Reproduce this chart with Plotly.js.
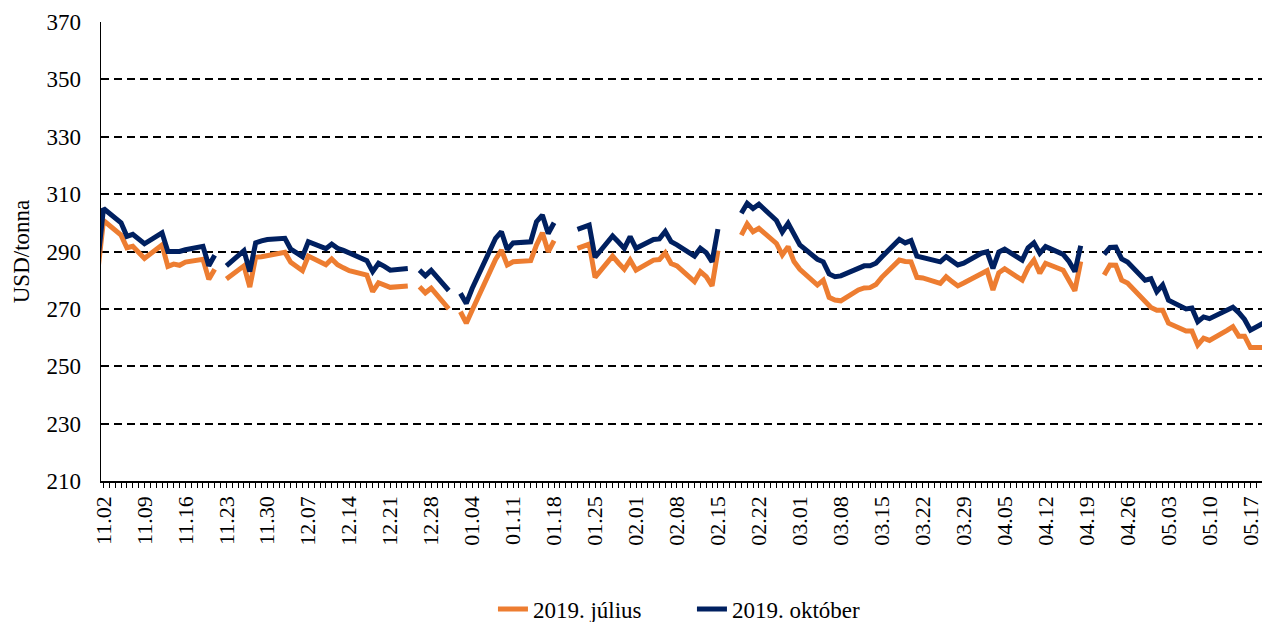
<!DOCTYPE html>
<html><head><meta charset="utf-8">
<script src="https://cdn.plot.ly/plotly-3.0.1.min.js"></script>
<style>html,body{margin:0;padding:0;background:#fff;} #chart{width:1264px;height:622px;}</style>
</head><body><div id="chart"></div>
<script>
const dates = [
 '2018-11-01','2018-11-02','2018-11-05','2018-11-06','2018-11-07','2018-11-08','2018-11-09',
 '2018-11-12','2018-11-13','2018-11-14','2018-11-15','2018-11-16',
 '2018-11-19','2018-11-20','2018-11-21','2018-11-22','2018-11-23',
 '2018-11-26','2018-11-27','2018-11-28','2018-11-29','2018-11-30',
 '2018-12-03','2018-12-04','2018-12-05','2018-12-06','2018-12-07',
 '2018-12-10','2018-12-11','2018-12-12','2018-12-13','2018-12-14',
 '2018-12-17','2018-12-18','2018-12-19','2018-12-20','2018-12-21',
 '2018-12-24','2018-12-25','2018-12-26','2018-12-27','2018-12-28',
 '2018-12-31','2019-01-01','2019-01-02','2019-01-03','2019-01-04',
 '2019-01-07','2019-01-08','2019-01-09','2019-01-10','2019-01-11',
 '2019-01-14','2019-01-15','2019-01-16','2019-01-17','2019-01-18',
 '2019-01-21','2019-01-22','2019-01-23','2019-01-24','2019-01-25',
 '2019-01-28','2019-01-29','2019-01-30','2019-01-31','2019-02-01',
 '2019-02-04','2019-02-05','2019-02-06','2019-02-07','2019-02-08',
 '2019-02-11','2019-02-12','2019-02-13','2019-02-14','2019-02-15',
 '2019-02-18','2019-02-19','2019-02-20','2019-02-21','2019-02-22',
 '2019-02-25','2019-02-26','2019-02-27','2019-02-28','2019-03-01',
 '2019-03-04','2019-03-05','2019-03-06','2019-03-07','2019-03-08',
 '2019-03-11','2019-03-12','2019-03-13','2019-03-14','2019-03-15',
 '2019-03-18','2019-03-19','2019-03-20','2019-03-21','2019-03-22',
 '2019-03-25','2019-03-26','2019-03-27','2019-03-28','2019-03-29',
 '2019-04-01','2019-04-02','2019-04-03','2019-04-04','2019-04-05',
 '2019-04-08','2019-04-09','2019-04-10','2019-04-11','2019-04-12',
 '2019-04-15','2019-04-16','2019-04-17','2019-04-18','2019-04-19',
 '2019-04-22','2019-04-23','2019-04-24','2019-04-25','2019-04-26',
 '2019-04-29','2019-04-30','2019-05-01','2019-05-02','2019-05-03',
 '2019-05-06','2019-05-07','2019-05-08','2019-05-09','2019-05-10',
 '2019-05-13','2019-05-14','2019-05-15','2019-05-16','2019-05-17',
 '2019-05-20'
];

const julius = [
 282.6,300.8,295.7,291.3,291.8,289.5,287.6,
 292.3,284.8,285.6,285.2,286.3,
 287.3,280.3,283.8,null,280.4,
 285.0,277.6,288.0,288.2,288.6,
 289.7,286.2,285.0,283.3,288.4,
 285.4,287.4,285.4,284.3,283.3,
 281.8,276.0,279.1,278.5,277.5,
 278.0,null,277.7,275.6,277.2,
 270.0,null,269.0,265.0,269.5,
 282.7,287.2,290.5,285.3,286.4,
 286.8,292.3,296.5,289.9,293.8,
 null,291.1,292.0,292.6,281.0,
 288.4,286.0,283.8,287.0,283.5,
 287.0,287.2,289.5,285.8,285.0,
 279.5,283.0,281.2,278.0,290.3,
 null,295.7,299.6,296.9,298.1,
 292.8,288.8,291.7,286.5,283.8,
 278.3,280.0,274.0,273.1,272.8,
 276.6,277.3,277.4,278.5,281.0,
 287.0,286.5,286.4,281.0,280.8,
 278.9,281.2,279.5,278.0,279.0,
 282.6,283.3,276.6,282.6,284.0,
 280.0,284.3,287.0,282.4,285.9,
 283.5,280.0,276.3,286.5,null,
 281.8,285.3,285.2,280.0,279.0,
 272.5,270.5,269.5,269.5,265.0,
 262.3,262.3,257.4,259.8,259.0,
 262.5,263.8,260.5,260.5,256.5,
 256.5
];

const oktober = [
 286.3,305.0,300.0,295.3,296.0,294.6,292.7,
 296.5,290.0,290.0,290.0,290.6,
 291.8,285.0,288.7,null,285.0,
 290.3,283.0,293.0,293.7,294.2,
 294.6,290.8,289.5,288.2,293.4,
 291.0,292.6,291.1,290.4,289.5,
 286.8,283.0,285.9,284.8,283.5,
 284.1,null,283.5,281.5,283.4,
 276.4,null,275.4,271.9,277.1,
 290.6,294.6,296.9,290.7,293.0,
 293.4,300.4,302.7,296.3,300.0,
 null,297.7,298.5,299.2,288.0,
 295.4,293.3,291.1,295.2,291.1,
 294.2,294.4,297.0,293.4,292.3,
 288.4,291.1,289.6,286.4,297.8,
 null,303.3,306.8,305.0,306.5,
 300.8,296.8,299.8,296.0,292.3,
 287.3,286.4,282.2,281.2,281.5,
 284.3,285.0,285.0,285.9,288.1,
 294.2,293.0,293.8,288.4,288.0,
 286.4,288.2,286.6,285.3,285.9,
 289.4,289.9,284.1,289.8,290.8,
 287.0,291.3,293.0,289.4,291.7,
 289.0,286.5,283.0,292.0,null,
 289.0,291.4,291.5,287.4,286.3,
 280.0,280.5,276.0,278.3,273.0,
 270.0,270.3,265.5,267.2,266.6,
 269.8,270.6,268.7,266.3,262.6,
 265.9
];

const seriesNames = ['2019. július', '2019. október'];
const seriesColors = ['#ED7D31', '#002060'];
const yTitle = 'USD/tonna';

const FONT = '"Liberation Serif","Times New Roman",serif';

const traces = [julius, oktober].map((vals, i) => ({
  x: dates, y: vals, name: seriesNames[i], type: 'scatter', mode: 'lines',
  connectgaps: false,
  line: {color: seriesColors[i], width: 5}
}));

const layout = {
  width: 1264, height: 622,
  margin: {l: 101, r: 2, t: 22, b: 141, autoexpand: false},
  paper_bgcolor: '#fff', plot_bgcolor: '#fff',
  font: {family: FONT, size: 23, color: '#000'},
  showlegend: true,
  legend: {orientation: 'h', x: 0.3376, xanchor: 'left', y: -0.279, yanchor: 'middle',
           entrywidth: 154, entrywidthmode: 'pixels',
           font: {family: FONT, size: 23, color: '#000'}, bgcolor: 'rgba(0,0,0,0)'},
  xaxis: {
    type: 'date',
    range: ['2018-11-01 13:45', '2019-05-18 23:30'],
    tick0: '2018-11-02', dtick: 7 * 86400000, tickformat: '%m.%d',
    tickangle: -90, ticks: 'outside', ticklen: 5, tickcolor: '#000', tickwidth: 1,
    showline: true, linecolor: '#000', linewidth: 1.5,
    showgrid: false, zeroline: false,
    minor: {dtick: 86400000, tick0: '2018-11-02', ticks: 'outside', ticklen: 5, tickcolor: '#000', tickwidth: 1, showgrid: false},
    tickfont: {family: FONT, size: 22, color: '#000'}
  },
  yaxis: {
    range: [210, 370], tick0: 210, dtick: 20,
    showgrid: true, gridcolor: '#000', gridwidth: 2, griddash: '8px,5px',
    showline: true, linecolor: '#000', linewidth: 1.5,
    ticks: '', ticklabelstandoff: 14, zeroline: false,
    tickfont: {family: FONT, size: 23, color: '#000'},
    title: {text: yTitle, standoff: 10, font: {family: FONT, size: 23, color: '#000'}}
  }
};

Plotly.newPlot('chart', traces, layout, {displayModeBar: false, staticPlot: true});
</script>
</body></html>
